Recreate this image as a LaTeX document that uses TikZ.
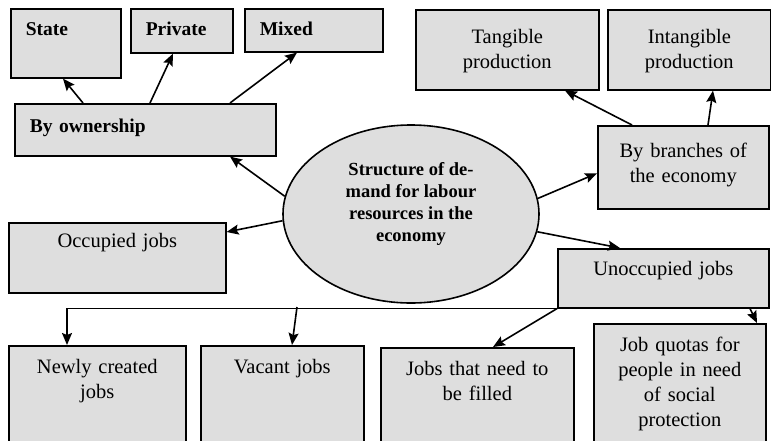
\documentclass[tikz,border=0pt]{standalone}
\usepackage{fontspec}
\setmainfont{Liberation Serif}
\usetikzlibrary{shapes.geometric, arrows.meta}
\tikzset{
    box/.style={rectangle, draw, line width=1.6pt, fill=black!13, anchor=north west, inner ysep=0pt, inner xsep=6pt, align=center, font=\fontsize{20.5pt}{25pt}\selectfont},
    leftbox/.style={box, align=left, inner xsep=15pt, font=\bfseries\fontsize{19.5pt}{24pt}\selectfont},
    core/.style={ellipse, draw, line width=1.6pt, fill=black!13, minimum width=256pt, minimum height=178pt, inner sep=0pt},
    arrow/.style={line width=1.6pt, ->, >={Stealth[length=12pt, width=10pt, inset=2pt]}}
}

\begin{document}
\begin{tikzpicture}[x=1pt, y=-1pt]
    \useasboundingbox (0,0) rectangle (771,440);
    % Place nodes
    \node [leftbox, text width=80pt, text height=27pt, text depth=42pt] (state) at (10,8) {State};
    \node [leftbox, text width=72pt, text height=27pt, text depth=17pt] (private) at (130,8) {Private};
    \node [leftbox, text width=108pt, text height=27pt, text depth=16pt] (mixed) at (244,8) {Mixed};
    \node [leftbox, text width=231pt, text height=29pt, text depth=23pt] (owner) at (14,103) {By ownership};
    \node [box, text width=171pt, text height=34pt, text depth=46pt] (tangible) at (415,9) {Tangible\\production};
    \node [box, text width=151pt, text height=34pt, text depth=46pt] (intangible) at (607,9) {Intangible\\production};
    \node [box, text width=159pt, text height=32pt, text depth=51pt] (branches) at (597,125) {By branches of\\the economy};
    \node [core] (demand) at (411,214) {};
    \node [font=\bfseries\fontsize{18.5pt}{22pt}\selectfont, align=center] (demandtext) at (411,204) {Structure of de-\\mand for labour\\resources in the\\economy};
    \node [box, text width=205pt, text height=25pt, text depth=45pt] (occupied) at (8,222) {Occupied jobs};
    \node [box, text width=199pt, text height=27pt, text depth=32pt] (unoccupied) at (557,248) {Unoccupied jobs};
    \node [box, text width=165pt, text height=28pt, text depth=69pt] (newly) at (8,345) {Newly created\\jobs};
    \node [box, text width=151pt, text height=28pt, text depth=69pt] (vacant) at (200,345) {Vacant jobs};
    \node [box, text width=181pt, text height=28pt, text depth=67pt] (tofill) at (380,347) {Jobs that need to\\be filled};
    \node [box, text width=160pt, text height=28pt, text depth=91pt] (quotas) at (593,323) {Job quotas for\\people in need\\of social\\protection};

    % Draw edges
    \draw [arrow] (demand.172.8) -- ([xshift=216pt]owner.south west);
    \draw [arrow] (demand.183.6) -- ([yshift=-10pt]occupied.north east);
    \draw [arrow] (demand.7) -- ([yshift=-6pt]branches.west);
    \draw [arrow] (demand.-8) -- ([xshift=63pt]unoccupied.north west);
    \draw [arrow] ([xshift=69pt]owner.north west) -- ([xshift=53pt]state.south west);
    \draw [arrow] ([xshift=136pt]owner.north west) -- ([xshift=43pt]private.south west);
    \draw [arrow] ([xshift=216pt]owner.north west) -- ([xshift=53pt]mixed.south west);
    \draw [arrow] ([xshift=35pt]branches.north west) -- ([xshift=150pt]tangible.south west);
    \draw [arrow] ([xshift=111pt]branches.north west) -- ([xshift=106pt]intangible.south west);
    \draw [arrow] (unoccupied.south west) -- ([xshift=113pt]tofill.north west);
    \draw [arrow] ([xshift=193pt]unoccupied.south west) -- ([xshift=164pt]quotas.north west);
    \draw [arrow] (unoccupied.south west) -| ([xshift=59pt]newly.north west);
    \coordinate (split) at (297,307);
    \draw [arrow] (split) -- ([xshift=92pt]vacant.north west);
\end{tikzpicture}
\end{document}
